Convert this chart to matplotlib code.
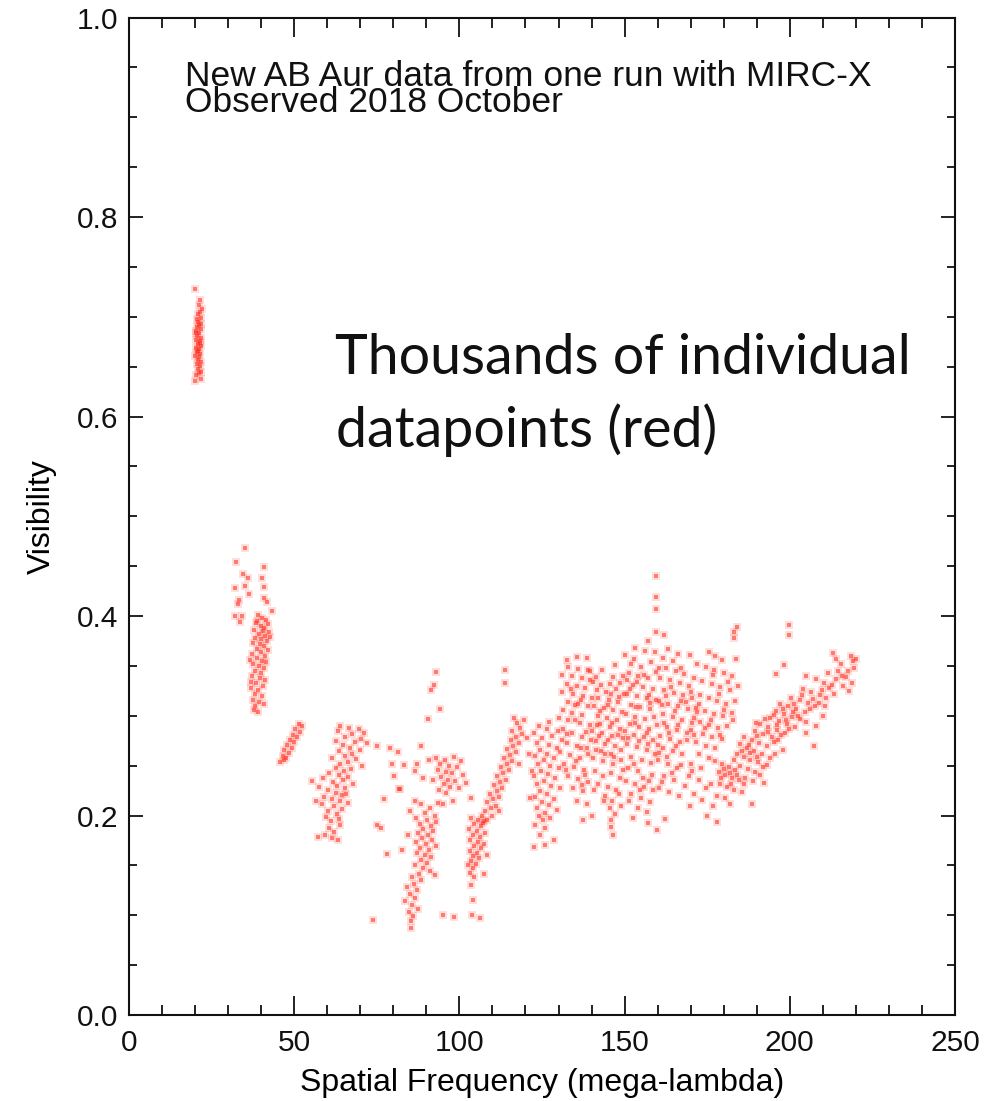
import numpy as np
import matplotlib
matplotlib.use("Agg")
import matplotlib.pyplot as plt
from matplotlib.ticker import MultipleLocator

# (spatial frequency, visibility) pairs, grouped by baseline clump
grp_a = [(20.0, 0.728), (21.3, 0.712), (21.6, 0.705), (20.8, 0.703), (21.9, 0.699), (21.0, 0.695),
         (20.5, 0.690), (21.7, 0.688), (20.2, 0.686), (21.2, 0.684), (20.7, 0.681), (21.8, 0.679),
         (20.3, 0.677), (21.4, 0.676), (20.9, 0.673), (21.9, 0.671), (20.4, 0.669), (21.1, 0.668),
         (20.6, 0.665), (21.6, 0.663), (20.1, 0.661), (21.3, 0.660), (20.8, 0.657), (21.9, 0.655),
         (20.5, 0.653), (21.5, 0.651), (21.0, 0.648), (21.8, 0.645), (20.2, 0.642), (20.0, 0.636),
         (21.7, 0.638), (21.2, 0.692), (20.6, 0.698), (22.1, 0.708), (21.5, 0.717), (21.9, 0.693),
         (20.4, 0.684), (21.6, 0.674), (20.9, 0.666), (21.3, 0.644)]

grp_b = [(35.0, 0.468), (32.3, 0.454), (40.8, 0.449), (34.4, 0.442), (35.9, 0.438), (40.4, 0.438),
         (32.0, 0.428), (35.0, 0.430), (36.2, 0.422), (40.8, 0.429), (33.2, 0.416), (33.0, 0.412),
         (41.7, 0.414), (41.0, 0.418), (32.0, 0.400), (34.1, 0.400), (33.7, 0.394), (43.2, 0.405),
         (39.0, 0.401), (40.3, 0.398), (41.5, 0.396), (38.5, 0.393), (42.0, 0.392), (39.8, 0.390),
         (41.0, 0.388), (37.8, 0.386), (40.5, 0.385), (42.3, 0.384), (39.2, 0.382), (41.3, 0.380),
         (38.0, 0.378), (40.0, 0.377), (41.8, 0.375), (37.5, 0.373), (39.5, 0.372), (40.8, 0.370),
         (38.6, 0.367), (42.0, 0.366), (39.9, 0.364), (37.2, 0.362), (41.2, 0.360), (38.8, 0.358),
         (40.4, 0.355), (37.6, 0.352), (39.3, 0.350), (41.0, 0.348), (38.2, 0.345), (40.0, 0.343),
         (37.3, 0.340), (39.5, 0.338), (41.2, 0.336), (38.5, 0.333), (40.5, 0.330), (37.0, 0.328),
         (39.0, 0.326), (38.0, 0.322), (40.2, 0.320), (37.5, 0.316), (39.3, 0.314), (38.2, 0.310),
         (40.8, 0.312), (37.8, 0.306), (39.0, 0.304), (36.8, 0.334), (38.8, 0.395), (42.6, 0.379),
         (36.5, 0.356), (41.6, 0.354)]

grp_c = [(51.5, 0.292), (52.5, 0.290), (50.3, 0.287), (51.8, 0.284), (49.5, 0.281), (50.8, 0.279),
         (48.6, 0.276), (50.0, 0.274), (47.8, 0.271), (49.2, 0.268), (47.0, 0.266), (48.3, 0.263),
         (46.5, 0.260), (47.6, 0.258), (45.6, 0.254), (46.8, 0.256)]

grp_d = [(64.0, 0.290), (66.5, 0.288), (69.5, 0.287), (71.0, 0.283), (63.2, 0.285), (67.5, 0.282),
         (65.3, 0.279), (70.2, 0.277), (62.5, 0.275), (68.3, 0.274), (72.0, 0.273), (64.8, 0.271),
         (66.8, 0.268), (69.8, 0.266), (63.5, 0.265), (67.6, 0.262), (65.5, 0.260), (61.5, 0.258),
         (68.8, 0.257), (66.2, 0.254), (64.0, 0.252), (70.5, 0.250), (62.5, 0.248), (67.2, 0.247),
         (65.0, 0.245), (60.5, 0.243), (63.5, 0.241), (66.3, 0.239), (58.8, 0.238), (64.8, 0.236),
         (61.8, 0.234), (67.8, 0.232), (63.0, 0.230), (57.5, 0.229), (65.5, 0.228), (60.3, 0.226),
         (62.5, 0.223), (64.5, 0.221), (59.0, 0.219), (61.3, 0.217), (63.8, 0.215), (66.2, 0.213),
         (58.3, 0.212), (62.0, 0.210), (64.5, 0.207), (60.2, 0.205), (62.8, 0.202), (59.5, 0.199),
         (63.5, 0.197), (61.0, 0.194), (64.0, 0.190), (60.5, 0.187), (62.0, 0.183), (59.3, 0.180),
         (61.5, 0.177), (63.2, 0.175), (57.3, 0.178), (65.8, 0.222), (55.5, 0.235), (56.5, 0.215)]

grp_sparse = [(75.1, 0.270), (79.1, 0.268), (81.5, 0.264), (79.7, 0.252), (80.3, 0.240), (82.1, 0.227),
              (77.3, 0.217), (75.1, 0.190), (76.3, 0.187), (78.2, 0.161), (73.9, 0.095), (85.2, 0.087),
              (88.5, 0.270), (92.8, 0.344), (92.2, 0.331), (91.5, 0.326), (94.0, 0.307), (90.6, 0.297),
              (83.3, 0.251), (87.3, 0.252), (89.1, 0.238), (86.7, 0.245), (81.8, 0.227), (90.9, 0.256)]

grp_e = [(86.5, 0.215), (88.5, 0.212), (91.0, 0.208), (85.0, 0.205), (89.5, 0.203), (92.5, 0.200),
         (87.0, 0.198), (90.2, 0.196), (93.0, 0.193), (88.0, 0.191), (91.3, 0.189), (89.0, 0.186),
         (92.0, 0.184), (87.5, 0.182), (90.5, 0.180), (88.8, 0.177), (91.8, 0.175), (86.8, 0.173),
         (89.8, 0.171), (92.8, 0.169), (88.2, 0.167), (90.8, 0.165), (87.3, 0.162), (89.5, 0.160),
         (91.5, 0.158), (88.5, 0.155), (90.3, 0.152), (86.5, 0.150), (89.0, 0.147), (91.0, 0.144),
         (87.8, 0.141), (85.5, 0.138), (88.5, 0.135), (86.3, 0.131), (84.0, 0.128), (87.2, 0.125),
         (85.0, 0.121), (86.5, 0.117), (83.5, 0.114), (85.8, 0.110), (87.5, 0.106), (84.8, 0.103),
         (86.0, 0.099), (85.3, 0.094), (92.6, 0.140), (95.0, 0.100), (98.5, 0.098), (84.5, 0.180),
         (82.5, 0.165), (93.5, 0.213)]

grp_f = [(93.0, 0.258), (95.5, 0.256), (98.5, 0.259), (100.5, 0.255), (94.2, 0.252), (96.8, 0.250),
         (99.3, 0.249), (93.5, 0.246), (95.8, 0.244), (97.8, 0.243), (101.0, 0.241), (94.5, 0.239),
         (96.5, 0.236), (98.8, 0.235), (95.2, 0.232), (97.2, 0.229), (100.0, 0.228), (93.8, 0.226),
         (96.0, 0.223), (102.0, 0.233), (92.0, 0.236), (98.0, 0.215), (95.0, 0.212), (103.5, 0.218)]

grp_g = [(103.5, 0.198), (105.5, 0.196), (107.5, 0.194), (104.3, 0.191), (106.5, 0.189), (103.0, 0.186),
         (105.2, 0.184), (107.8, 0.182), (104.0, 0.180), (106.2, 0.178), (103.3, 0.175), (105.5, 0.173),
         (107.3, 0.171), (104.5, 0.169), (106.5, 0.167), (103.2, 0.164), (105.3, 0.162), (104.2, 0.159),
         (106.0, 0.157), (103.6, 0.154), (105.0, 0.151), (104.0, 0.147), (103.2, 0.142), (104.5, 0.138),
         (103.5, 0.130), (104.0, 0.115), (103.8, 0.100), (106.2, 0.097), (107.5, 0.141), (102.5, 0.150),
         (108.5, 0.160), (106.8, 0.200)]

grp_h = [(107.0, 0.192), (108.5, 0.196), (110.0, 0.200), (107.8, 0.205), (109.5, 0.208), (111.0, 0.210),
         (108.5, 0.214), (110.3, 0.217), (112.0, 0.219), (109.2, 0.222), (111.5, 0.225), (113.0, 0.228),
         (110.5, 0.231), (112.3, 0.234), (114.0, 0.236), (111.5, 0.240), (113.3, 0.243), (115.0, 0.246),
         (112.5, 0.249), (114.3, 0.252), (116.0, 0.255), (113.5, 0.258), (115.3, 0.261), (117.0, 0.264),
         (114.5, 0.267), (116.3, 0.270), (118.0, 0.273), (115.5, 0.276), (117.2, 0.279), (119.0, 0.282),
         (116.0, 0.285), (118.3, 0.288), (117.5, 0.293), (119.5, 0.296), (116.5, 0.298), (120.5, 0.278),
         (113.7, 0.346), (113.8, 0.333), (118.0, 0.252), (112.0, 0.205), (121.0, 0.262)]

grp_i = [(124.0, 0.290), (126.5, 0.287), (122.5, 0.283), (128.0, 0.280), (125.0, 0.278), (123.5, 0.273),
         (127.0, 0.271), (129.5, 0.268), (124.5, 0.266), (126.5, 0.262), (122.8, 0.260), (128.5, 0.258),
         (125.5, 0.256), (123.8, 0.252), (127.5, 0.250), (130.0, 0.248), (124.8, 0.245), (126.8, 0.242),
         (122.5, 0.240), (129.0, 0.238), (125.5, 0.235), (123.5, 0.232), (127.8, 0.230), (130.5, 0.228),
         (124.5, 0.225), (126.5, 0.222), (122.8, 0.219), (128.5, 0.217), (125.0, 0.214), (127.0, 0.211),
         (123.5, 0.208), (129.5, 0.206), (125.8, 0.203), (124.0, 0.200), (127.5, 0.198), (125.2, 0.195),
         (123.0, 0.190), (126.0, 0.187), (124.5, 0.180), (122.5, 0.168), (126.0, 0.170), (128.5, 0.175),
         (121.5, 0.218), (122.0, 0.245)]

grp_j = [(132.5, 0.356), (135.5, 0.359), (138.5, 0.358), (133.0, 0.349), (136.0, 0.347), (138.8, 0.346),
         (134.0, 0.340), (137.0, 0.338), (139.5, 0.336), (132.5, 0.332), (135.5, 0.330), (138.0, 0.328),
         (131.0, 0.324), (134.5, 0.322), (137.5, 0.320), (140.0, 0.318), (132.8, 0.314), (136.0, 0.312),
         (139.0, 0.310), (131.5, 0.306), (134.0, 0.303), (137.2, 0.301), (130.0, 0.298), (133.0, 0.296),
         (136.5, 0.293), (139.5, 0.291),
         (140.5, 0.334), (143.0, 0.331), (146.6, 0.339), (148.5, 0.333), (141.5, 0.326), (144.5, 0.324),
         (147.5, 0.327), (149.8, 0.322), (142.0, 0.318), (145.2, 0.316), (148.0, 0.314), (140.8, 0.310),
         (143.8, 0.308), (146.5, 0.306), (149.2, 0.304), (141.8, 0.300), (144.8, 0.298), (147.8, 0.296),
         (142.5, 0.292), (145.5, 0.289), (148.5, 0.287), (140.2, 0.285), (143.3, 0.283), (146.3, 0.280),
         (149.5, 0.278), (141.3, 0.275), (144.2, 0.272), (147.0, 0.270), (142.8, 0.265), (145.8, 0.262),
         (148.8, 0.266), (140.5, 0.258), (143.5, 0.255), (146.5, 0.252), (149.0, 0.256),
         (150.6, 0.336), (153.2, 0.368), (156.2, 0.365), (157.2, 0.375), (152.0, 0.352), (155.0, 0.349),
         (158.0, 0.354), (151.2, 0.343), (154.0, 0.340), (157.0, 0.338), (159.5, 0.344), (152.5, 0.331),
         (155.5, 0.329), (158.5, 0.327), (150.8, 0.322), (153.8, 0.320), (156.8, 0.318), (159.6, 0.316),
         (151.8, 0.311), (154.8, 0.309), (157.8, 0.307), (150.5, 0.302), (153.2, 0.299), (156.2, 0.297),
         (159.0, 0.299), (151.5, 0.292), (154.5, 0.289), (157.5, 0.287), (152.8, 0.281), (155.8, 0.279),
         (158.6, 0.276), (150.8, 0.272), (153.8, 0.269), (156.8, 0.266), (159.3, 0.262), (152.0, 0.259),
         (155.2, 0.256), (158.0, 0.253), (151.0, 0.248), (154.0, 0.245),
         (159.5, 0.440), (159.5, 0.419), (159.5, 0.407), (159.6, 0.384), (162.0, 0.381), (159.1, 0.364),
         (161.5, 0.358), (164.5, 0.355), (162.5, 0.348), (165.5, 0.345), (168.0, 0.342), (160.8, 0.338),
         (163.8, 0.336), (166.8, 0.333), (169.5, 0.330), (161.8, 0.326), (164.8, 0.323), (167.8, 0.321),
         (170.5, 0.318), (160.5, 0.315), (163.2, 0.312), (166.2, 0.310), (169.2, 0.307), (171.8, 0.304),
         (161.5, 0.302), (164.5, 0.299), (167.5, 0.296), (170.5, 0.293), (162.8, 0.289), (165.8, 0.286),
         (168.8, 0.283), (160.8, 0.280), (163.8, 0.277), (166.8, 0.274), (161.5, 0.268), (164.5, 0.265),
         (167.5, 0.262), (160.2, 0.256), (163.0, 0.252), (166.0, 0.248), (162.0, 0.240), (165.0, 0.236),
         (168.4, 0.230), (160.5, 0.228), (163.5, 0.224), (166.5, 0.220),
         (131.5, 0.287), (134.0, 0.283), (137.0, 0.279), (132.5, 0.273), (135.5, 0.270), (138.5, 0.268),
         (130.5, 0.264), (133.5, 0.261), (136.5, 0.258), (139.0, 0.262), (131.8, 0.252), (134.8, 0.249),
         (137.8, 0.246), (133.0, 0.240), (136.0, 0.237), (139.0, 0.234), (134.5, 0.228), (137.5, 0.225),
         (135.5, 0.215), (138.5, 0.212), (141.0, 0.245), (143.5, 0.240), (146.0, 0.243), (148.5, 0.238),
         (142.0, 0.232), (145.0, 0.229), (147.5, 0.226), (144.0, 0.220), (146.2, 0.215), (145.5, 0.208),
         (147.0, 0.202), (146.0, 0.196), (145.8, 0.188), (146.5, 0.180), (150.5, 0.235), (153.0, 0.232),
         (156.0, 0.229), (158.5, 0.226), (152.0, 0.222), (155.0, 0.218), (157.8, 0.214), (154.0, 0.208),
         (156.8, 0.204), (159.8, 0.185), (162.3, 0.197), (152.5, 0.198), (140.0, 0.200), (137.5, 0.195),
         (149.0, 0.210), (157.0, 0.192)]

grp_j2 = [(131.2, 0.341), (133.7, 0.327), (136.9, 0.316), (135.1, 0.296), (138.2, 0.284), (141.6, 0.291),
          (144.9, 0.311), (143.1, 0.346), (147.2, 0.351), (150.1, 0.361), (152.9, 0.357), (155.8, 0.341),
          (151.6, 0.327), (148.4, 0.319), (146.1, 0.293), (150.2, 0.285), (153.1, 0.293), (156.9, 0.283),
          (159.7, 0.291), (161.2, 0.311), (164.1, 0.329), (167.1, 0.348), (169.9, 0.361), (166.3, 0.362),
          (163.2, 0.367), (168.7, 0.314), (171.1, 0.298), (166.1, 0.291), (163.4, 0.283), (160.1, 0.271),
          (162.7, 0.259), (165.7, 0.270), (168.9, 0.276), (158.3, 0.241), (155.6, 0.238), (152.7, 0.252),
          (149.6, 0.246), (146.9, 0.259), (144.1, 0.262), (141.2, 0.266), (138.1, 0.241), (135.2, 0.255),
          (132.3, 0.246), (130.9, 0.276), (134.9, 0.311), (142.7, 0.305), (145.9, 0.322), (153.4, 0.309),
          (157.3, 0.321), (160.3, 0.348), (161.9, 0.293), (165.2, 0.305), (170.9, 0.281), (172.4, 0.312),
          (176.8, 0.341), (178.6, 0.322), (181.4, 0.334), (180.2, 0.306), (176.1, 0.296), (182.9, 0.296),
          (178.9, 0.281), (174.2, 0.288), (143.9, 0.215), (148.2, 0.222), (151.3, 0.215), (154.7, 0.226),
          (157.5, 0.235), (161.2, 0.234), (164.3, 0.243), (167.2, 0.251), (140.6, 0.226), (137.1, 0.231),
          (136.8, 0.268), (139.8, 0.276), (142.3, 0.280), (145.1, 0.276), (148.1, 0.281), (151.1, 0.278),
          (154.3, 0.275), (157.2, 0.272), (160.5, 0.263), (139.5, 0.345), (141.3, 0.339), (145.5, 0.332),
          (149.5, 0.340), (153.9, 0.334), (157.6, 0.313), (162.4, 0.320), (167.2, 0.315), (132.5, 0.282),
          (129.8, 0.285), (127.2, 0.294)]

grp_k = [(175.5, 0.364), (177.5, 0.360), (179.5, 0.356), (183.6, 0.357), (183.1, 0.384), (184.1, 0.389),
         (183.1, 0.378), (172.0, 0.352), (174.5, 0.349), (177.0, 0.346), (180.0, 0.343), (182.5, 0.340),
         (171.0, 0.338), (173.5, 0.335), (176.5, 0.332), (179.0, 0.329), (181.8, 0.326), (184.3, 0.330),
         (170.2, 0.324), (172.8, 0.321), (175.5, 0.318), (178.0, 0.315), (180.8, 0.312), (183.5, 0.315),
         (171.5, 0.308), (174.3, 0.305), (177.0, 0.302), (179.8, 0.300), (182.5, 0.303), (172.8, 0.294),
         (175.5, 0.291), (178.3, 0.288), (181.0, 0.290), (170.0, 0.286), (173.8, 0.282), (176.5, 0.279),
         (179.5, 0.277), (171.5, 0.274), (174.5, 0.270), (177.5, 0.268), (172.5, 0.262), (175.5, 0.258),
         (170.0, 0.252), (173.0, 0.248), (169.5, 0.240), (170.5, 0.245), (172.5, 0.236), (174.5, 0.228),
         (171.0, 0.222), (173.5, 0.216), (176.0, 0.232), (169.8, 0.210), (175.0, 0.200)]

grp_l = [(177.5, 0.255), (179.5, 0.252), (181.5, 0.249), (183.5, 0.246), (178.5, 0.244), (180.5, 0.241),
         (182.5, 0.238), (184.5, 0.236), (179.0, 0.232), (181.0, 0.229), (183.0, 0.226), (185.5, 0.224),
         (178.0, 0.220), (180.5, 0.218), (176.8, 0.210), (182.0, 0.212), (178.0, 0.193), (188.7, 0.212),
         (192.2, 0.233), (184.0, 0.262), (186.0, 0.259), (188.0, 0.256), (185.0, 0.250), (187.3, 0.247),
         (189.5, 0.244), (186.5, 0.238), (188.8, 0.235), (191.0, 0.241), (184.8, 0.272), (187.0, 0.268),
         (189.2, 0.265), (191.5, 0.262), (186.0, 0.279), (188.5, 0.276), (190.8, 0.273), (193.0, 0.270),
         (189.5, 0.285), (192.0, 0.282), (194.5, 0.279), (196.5, 0.276), (191.0, 0.292), (193.5, 0.289),
         (196.0, 0.286), (198.5, 0.283), (190.5, 0.254), (193.0, 0.251), (195.5, 0.262), (197.8, 0.266),
         (194.0, 0.298), (196.8, 0.295), (199.3, 0.292), (201.5, 0.289), (195.8, 0.305), (198.3, 0.302),
         (200.8, 0.299), (203.0, 0.297), (197.0, 0.312), (199.5, 0.310), (202.0, 0.307), (204.5, 0.304),
         (200.5, 0.318), (203.0, 0.316), (205.5, 0.313), (207.5, 0.310), (203.9, 0.327), (206.5, 0.324),
         (209.0, 0.321), (211.0, 0.318), (207.4, 0.270), (205.0, 0.283), (208.0, 0.290), (210.0, 0.300),
         (195.8, 0.342), (198.3, 0.351), (199.8, 0.391), (199.8, 0.381), (205.0, 0.340), (208.0, 0.337),
         (210.5, 0.333), (212.0, 0.328)]

grp_l2 = [(180.1, 0.247), (182.3, 0.232), (184.1, 0.241), (186.2, 0.232), (187.9, 0.263), (190.1, 0.259),
          (191.8, 0.249), (194.1, 0.258), (195.1, 0.274), (197.2, 0.281), (199.7, 0.287), (200.9, 0.304),
          (202.6, 0.300), (204.8, 0.294), (206.1, 0.307), (208.8, 0.313), (210.6, 0.310), (201.2, 0.312),
          (198.8, 0.296), (196.2, 0.291), (193.3, 0.284), (190.2, 0.280), (187.6, 0.271), (185.5, 0.265),
          (183.2, 0.256), (181.8, 0.243), (179.2, 0.238), (189.8, 0.293), (192.6, 0.297), (195.2, 0.301),
          (197.9, 0.307), (203.8, 0.321), (206.9, 0.317), (209.6, 0.326), (212.8, 0.331), (211.5, 0.343),
          (214.7, 0.345), (215.9, 0.340), (218.8, 0.333), (220.0, 0.357)]

grp_m = [(213.0, 0.363), (214.0, 0.357), (215.5, 0.352), (214.0, 0.337), (217.0, 0.339), (218.5, 0.360),
         (219.0, 0.355), (217.5, 0.345), (219.5, 0.348), (216.0, 0.330), (218.0, 0.325), (213.5, 0.322)]

groups = [grp_a, grp_b, grp_c, grp_d, grp_sparse, grp_e, grp_f, grp_g, grp_h, grp_i,
          grp_j, grp_j2, grp_k, grp_l, grp_l2, grp_m]
pts = np.array([p for g in groups for p in g])

plt.rcParams['font.family'] = ['Liberation Sans', 'DejaVu Sans']

fig = plt.figure(figsize=(10.04, 11.01), dpi=100)
ax = fig.add_axes([0.1285, 0.0781, 0.8227, 0.906])

# faint halo + core so the dots look like the soft red specks of the original
ax.plot(pts[:, 0], pts[:, 1], 's', color='#ff3b2b', alpha=0.16, ms=5.2, mew=0)
ax.plot(pts[:, 0], pts[:, 1], 's', color='#ff2a1a', alpha=0.55, ms=2.9, mew=0)

ax.set_xlim(0, 250)
ax.set_ylim(0, 1.0)
ax.xaxis.set_major_locator(MultipleLocator(50))
ax.xaxis.set_minor_locator(MultipleLocator(10))
ax.yaxis.set_major_locator(MultipleLocator(0.2))
ax.yaxis.set_minor_locator(MultipleLocator(0.05))
ax.yaxis.set_major_formatter(plt.FuncFormatter(lambda v, p: '%.1f' % v))

ax.tick_params(which='both', direction='in', top=True, right=True, width=1.3, labelsize=21.5, colors='#111111')
ax.tick_params(axis='x', which='major', length=14, pad=10)
ax.tick_params(axis='x', which='minor', length=7)
ax.tick_params(axis='y', which='major', length=10, pad=8)
ax.tick_params(axis='y', which='minor', length=6)
for s in ax.spines.values():
    s.set_linewidth(1.5)
    s.set_color('#111111')

ax.set_xlabel('Spatial Frequency (mega-lambda)', fontsize=23, labelpad=8)
ax.set_ylabel('Visibility', fontsize=23, labelpad=14)

# multi-line text with va='baseline' anchors on the last line
ax.text(0.068, 0.9054, 'New AB Aur data from one run with MIRC-X\nObserved 2018 October',
        transform=ax.transAxes, fontsize=25.5, va='baseline', ha='left', ma='left',
        linespacing=0.74, color='#111111')

ax.text(0.249, 0.643, 'Thousands of individual', transform=ax.transAxes,
        fontsize=40, va='baseline', ha='left', family=['Lato', 'DejaVu Sans'], color='#111111')
ax.text(0.251, 0.569, 'datapoints (red)', transform=ax.transAxes,
        fontsize=40, va='baseline', ha='left', family=['Lato', 'DejaVu Sans'], color='#111111')

fig.savefig('out.png', dpi=100)
